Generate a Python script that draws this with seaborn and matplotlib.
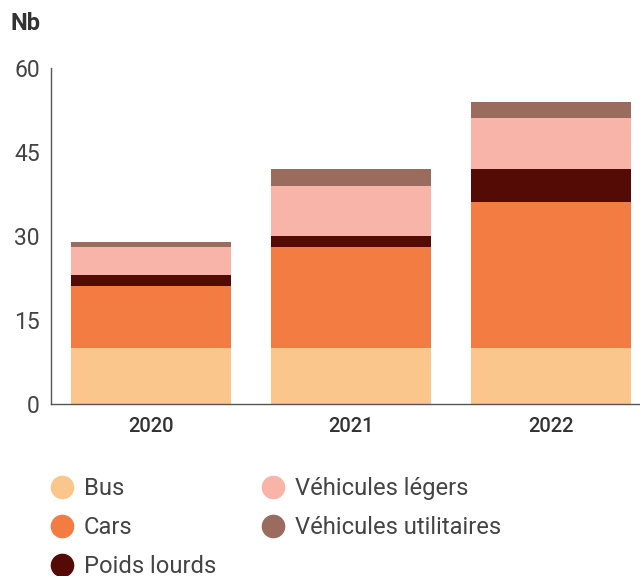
import matplotlib
matplotlib.use("Agg")
import matplotlib.pyplot as plt
import seaborn as sns
import numpy as np
import pandas as pd
from matplotlib.lines import Line2D

years = ["2020", "2021", "2022"]
bus = [10, 10, 10]
cars = [11, 18, 26]
poids_lourds = [2, 2, 6]
vehicules_legers = [5, 9, 9]
vehicules_utilitaires = [1, 3, 3]

series_names = ["Bus", "Cars", "Poids lourds", "Véhicules légers", "Véhicules utilitaires"]
series_vals = [bus, cars, poids_lourds, vehicules_legers, vehicules_utilitaires]
colors = ["#FBC68C", "#F37C43", "#550B05", "#F8B4A8", "#9A6C5E"]

sns.set_style("white")
plt.rcParams["font.family"] = ["Roboto", "DejaVu Sans"]

fig = plt.figure(figsize=(6.4, 5.76), dpi=100)
ax = fig.add_axes([51/640, (576-404)/576, (640-51)/640, (404-68)/576])

cum = np.cumsum(np.array(series_vals), axis=0)
# draw from top layer down so each lower layer covers the one above
for i in range(len(series_names) - 1, -1, -1):
    df = pd.DataFrame({"year": years, "value": cum[i]})
    sns.barplot(data=df, x="year", y="value", color=colors[i], width=0.8,
                saturation=1, ax=ax, linewidth=0, edgecolor="none")

ax.set_xlim(-0.5, 2.445)
ax.set_ylim(0, 60)
ax.set_yticks([0, 15, 30, 45, 60])
ax.set_xlabel("")
ax.set_ylabel("")
for s in ["top", "right"]:
    ax.spines[s].set_visible(False)
for s in ["left", "bottom"]:
    ax.spines[s].set_color("#555555")
    ax.spines[s].set_linewidth(1.0)

ax.tick_params(axis="y", direction="in", length=11, width=1, color="#444444",
               labelsize=16.5, labelcolor="#444444", pad=8)
ax.tick_params(axis="x", which="major", length=0, labelsize=14.5, labelcolor="#333333", pad=9)
for lab in ax.get_xticklabels():
    lab.set_fontweight("medium")
ax.set_xticks([0.5, 1.5], minor=True)
ax.tick_params(axis="x", which="minor", direction="in", length=7, width=1, color="#444444")

fig.text(10/640, 1 - 24/576, "Nb", fontsize=17, fontweight="bold", color="#333333",
         va="center", ha="left")

handles = [Line2D([0], [0], marker="o", linestyle="none", markersize=16,
                  markerfacecolor=c, markeredgecolor=c) for c in colors]
leg = fig.legend(handles, series_names, loc="upper left", bbox_to_anchor=(48/640, 1 - 477/576),
                 ncol=2, frameon=False, fontsize=17.1, labelspacing=0.68, handletextpad=0.32,
                 columnspacing=1.8, handlelength=1.2, borderaxespad=0, borderpad=0)
for t in leg.get_texts():
    t.set_color("#444444")

fig.savefig("out.png", dpi=100)
